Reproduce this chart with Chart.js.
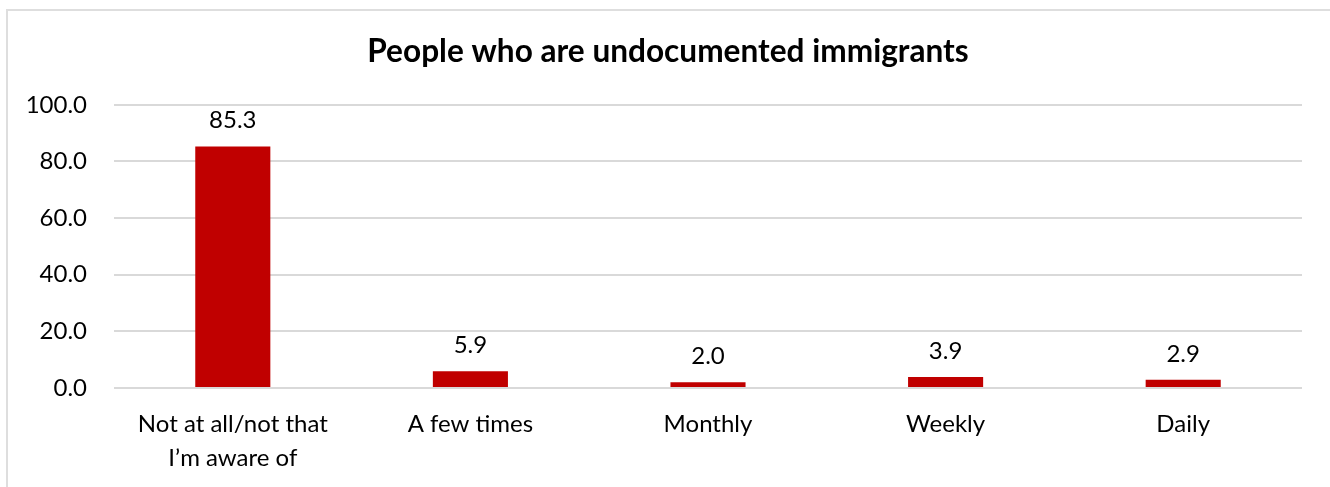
<!DOCTYPE html>
<html>
<head>
<meta charset="utf-8">
<script src="https://cdn.jsdelivr.net/npm/chart.js@4"></script>
<style>
  html, body { margin: 0; padding: 0; background: #fff; overflow: hidden; }
  #frame { position: absolute; left: 6px; top: 9px; width: 1400px; height: 600px; border: 2px solid #dedede; box-sizing: border-box; }
  #c { position: absolute; left: 0; top: 0; }
</style>
</head>
<body>
<div id="frame"></div>
<canvas id="c" width="1330" height="487"></canvas>
<script>
const chartTitle = "People who are undocumented immigrants";
const categories = [["Not at all/not that", "I’m aware of"], "A few times", "Monthly", "Weekly", "Daily"];
const values = [85.3, 5.9, 2.0, 3.9, 2.9];
const yTicks = [0, 20, 40, 60, 80, 100];

const FONT = "Lato, 'Open Sans', sans-serif";

const dataLabels = {
  id: 'dataLabels',
  afterDatasetsDraw(chart) {
    const ctx = chart.ctx;
    const meta = chart.getDatasetMeta(0);
    ctx.save();
    ctx.font = "24px " + FONT;
    ctx.fillStyle = "#000";
    ctx.textAlign = "center";
    ctx.textBaseline = "alphabetic";
    meta.data.forEach((bar, i) => {
      ctx.fillText(values[i].toFixed(1), bar.x, bar.y - 18);
    });
    ctx.restore();
  }
};

// Title centred on the outer chart frame (6..1330), as in the reference
const frameTitle = {
  id: 'frameTitle',
  afterDraw(chart) {
    const ctx = chart.ctx;
    ctx.save();
    ctx.font = "bold 31.6px " + FONT;
    ctx.fillStyle = "#000";
    ctx.textAlign = "center";
    ctx.textBaseline = "middle";
    ctx.fillText(chartTitle, 668, 52);
    ctx.restore();
  }
};

new Chart(document.getElementById('c'), {
  type: 'bar',
  data: {
    labels: categories,
    datasets: [{
      data: values,
      backgroundColor: '#C00000',
      borderWidth: 0,
      barPercentage: 1,
      categoryPercentage: 0.316
    }]
  },
  options: {
    responsive: false,
    devicePixelRatio: 1,
    animation: false,
    layout: { padding: { left: 0, right: 28, top: 104.8, bottom: 0 } },
    plugins: {
      legend: { display: false },
      tooltip: { enabled: false },
      title: { display: false }
    },
    scales: {
      y: {
        min: 0, max: 100,
        afterBuildTicks(axis) { axis.ticks = yTicks.map(v => ({ value: v })); },
        afterFit(axis) { axis.width = 114; },
        border: { display: false },
        grid: { color: '#d9d9d9', lineWidth: 2, tickLength: 0, drawTicks: false },
        ticks: {
          color: '#000',
          padding: 27,
          font: { family: FONT, size: 24 },
          callback: v => Number(v).toFixed(1)
        }
      },
      x: {
        afterFit(axis) { axis.height = 99; },
        border: { display: false },
        grid: { display: false, drawTicks: false },
        ticks: {
          color: '#000',
          padding: 19,
          maxRotation: 0,
          autoSkip: false,
          font: { family: FONT, size: 24, lineHeight: 1.42 }
        }
      }
    }
  },
  plugins: [dataLabels, frameTitle]
});
</script>
</body>
</html>
